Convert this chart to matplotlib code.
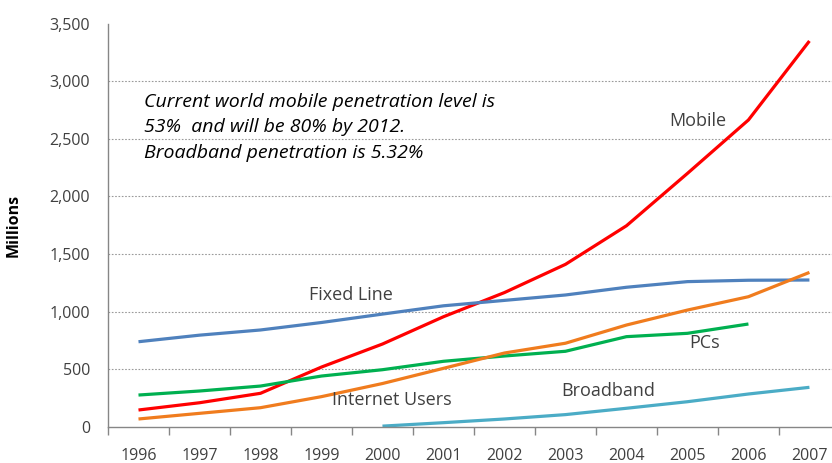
import matplotlib
matplotlib.use("Agg")
import matplotlib.pyplot as plt
from matplotlib.ticker import FuncFormatter, FixedLocator

# === DATA (millions) ===
years = [1996, 1997, 1998, 1999, 2000, 2001, 2002, 2003, 2004, 2005, 2006, 2007]

mobile = [145, 208, 290, 518, 718, 955, 1165, 1410, 1745, 2200, 2664, 3350]
fixed_line = [738, 795, 840, 905, 978, 1050, 1097, 1144, 1211, 1260, 1272, 1274]
internet_users = [67, 116, 165, 261, 375, 507, 640, 725, 883, 1013, 1129, 1340]

pc_years = [1996, 1997, 1998, 1999, 2000, 2001, 2002, 2003, 2004, 2005, 2006]
pcs = [275, 310, 353, 440, 495, 568, 614, 655, 782, 811, 892]

bb_years = [2000, 2001, 2002, 2003, 2004, 2005, 2006, 2007]
broadband = [5, 35, 67, 105, 160, 217, 284, 342]

note = ("Current world mobile penetration level is\n"
        "53%  and will be 80% by 2012.\n"
        "Broadband penetration is 5.32%")

# === STYLE ===
TXT = "#404040"
plt.rcParams["font.family"] = ["Open Sans", "DejaVu Sans"]

fig = plt.figure(figsize=(8.32, 4.63), dpi=100)
ax = fig.add_axes([0.1298, 0.0784, 0.8702, 0.8704])

ax.plot(years, mobile, color="#ff0000", lw=2.3, solid_capstyle="butt")
ax.plot(years, fixed_line, color="#4f81bd", lw=2.3, solid_capstyle="butt")
ax.plot(pc_years, pcs, color="#00b050", lw=2.3, solid_capstyle="butt")
ax.plot(years, internet_users, color="#f07c1e", lw=2.3, solid_capstyle="butt")
ax.plot(bb_years, broadband, color="#4bacc6", lw=2.3, solid_capstyle="butt")

ax.set_xlim(1995.5, 2007.37)
ax.set_ylim(0, 3500)

# y axis
ax.set_yticks(range(0, 3501, 500))
ax.yaxis.set_major_formatter(FuncFormatter(lambda v, p: f"{int(v):,}"))
ax.tick_params(axis="y", length=0, pad=13, labelsize=11.5, labelcolor=TXT)
for y in range(500, 3001, 500):
    ax.axhline(y, color="#9a9a9a", lw=0.8, ls=(0, (1.5, 1.5)), zorder=0)

# x axis: tick marks between categories, labels at centres
ax.xaxis.set_major_locator(FixedLocator([y - 0.5 for y in years]))
ax.xaxis.set_minor_locator(FixedLocator(years))
ax.xaxis.set_major_formatter(FuncFormatter(lambda v, p: ""))
ax.xaxis.set_minor_formatter(FuncFormatter(lambda v, p: str(int(round(v)))))
ax.tick_params(axis="x", which="major", length=6, color="#868686", width=1)
ax.tick_params(axis="x", which="minor", length=0, pad=15, labelsize=11.5, labelcolor=TXT)

for s in ["top", "right"]:
    ax.spines[s].set_visible(False)
for s in ["left", "bottom"]:
    ax.spines[s].set_color("#868686")
    ax.spines[s].set_linewidth(1)

ax.set_ylabel("Millions", fontsize=11.5, fontweight="bold", color="black", labelpad=20)

# series labels
ax.text(2005.17, 2655, "Mobile", fontsize=13, color=TXT, ha="center", va="center")
ax.text(1999.48, 1144, "Fixed Line", fontsize=13, color=TXT, ha="center", va="center")
ax.text(2005.28, 727, "PCs", fontsize=13, color=TXT, ha="center", va="center")
ax.text(2000.16, 232, "Internet Users", fontsize=13, color=TXT, ha="center", va="center")
ax.text(2003.7, 310, "Broadband", fontsize=13, color=TXT, ha="center", va="center")

ax.text(1996.09, 2600, note, fontsize=14, style="italic", color="black",
        ha="left", va="center", linespacing=1.55)

fig.savefig("out.png", dpi=100)
